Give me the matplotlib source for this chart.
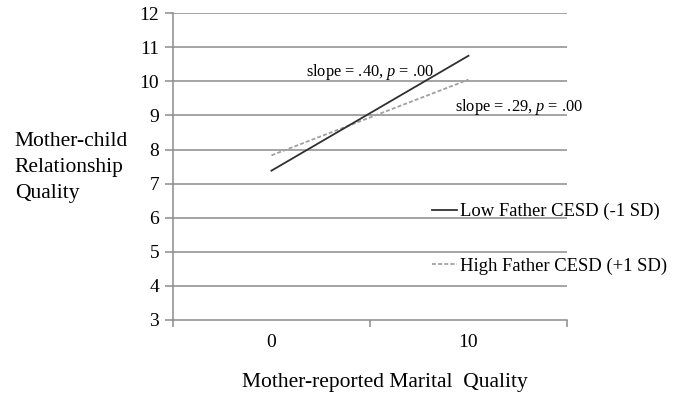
import matplotlib.pyplot as plt
from matplotlib.ticker import FixedLocator, NullFormatter

plt.rcParams['font.family'] = ['Liberation Serif', 'DejaVu Serif']
plt.rcParams['mathtext.fontset'] = 'custom'
plt.rcParams['mathtext.rm'] = 'Liberation Serif'
plt.rcParams['mathtext.it'] = 'Liberation Serif:italic'

# dados
marital = [0, 10]
low_cesd = [7.38, 10.75]
high_cesd = [7.83, 10.05]
y_ticks = [3, 4, 5, 6, 7, 8, 9, 10, 11, 12]
x_labels = ['0', '10']

fig = plt.figure(figsize=(6.77, 3.98), dpi=100)
ax = fig.add_axes([0.2555, 0.196, 0.582, 0.771])

grid_col = '#8c8c8c'

# linhas de grade horizontais
for v in y_ticks[1:]:
    ax.axhline(v, color=grid_col, lw=1.1, zorder=1)

l1, = ax.plot(marital, low_cesd, color='#303030', lw=1.3, zorder=3,
              label='Low Father CESD (-1 SD)')
l2, = ax.plot(marital, high_cesd, color='#a0a0a0', lw=1.3, ls=(0, (2.2, 1.2)), zorder=2,
              label='High Father CESD (+1 SD)')

ax.set_xlim(-5, 15)
ax.set_ylim(3, 12)

# eixo x tipo categoria: marcas nos limites, rotulos nos centros
ax.xaxis.set_major_locator(FixedLocator(marital))
ax.set_xticklabels(x_labels)
ax.xaxis.set_minor_locator(FixedLocator([-5, 5, 15]))
ax.xaxis.set_minor_formatter(NullFormatter())
ax.tick_params(axis='x', which='major', length=0, pad=10, labelsize=14)
ax.tick_params(axis='x', which='minor', length=5, width=1.1, color=grid_col, direction='out')

ax.set_yticks(y_ticks)
ax.tick_params(axis='y', length=6, width=1.1, color=grid_col, direction='out', pad=4, labelsize=14)

for s in ['top', 'right']:
    ax.spines[s].set_visible(False)
ax.spines['left'].set_color(grid_col)
ax.spines['bottom'].set_color(grid_col)
ax.spines['left'].set_linewidth(1.1)
ax.spines['bottom'].set_linewidth(1.1)

fig.text(0.569, 0.038, 'Mother-reported Marital  Quality', fontsize=15.5,
         ha='center', va='center')

fig.text(0.022, 0.58, 'Mother-child\nRelationship\nQuality', fontsize=15.5,
         ha='left', va='center', linespacing=1.5)

# anotacoes de inclinacao
fig.text(0.452, 0.82, 'slope = .40, $p$ = .00', fontsize=11.8, ha='left', va='center')
fig.text(0.672, 0.73, 'slope = .29, $p$ = .00', fontsize=11.8, ha='left', va='center')

fig.legend(handles=[l1, l2], loc='upper left', bbox_to_anchor=(0.638, 0.49),
           frameon=False, fontsize=13.4, handlelength=1.35, handletextpad=0.15,
           labelspacing=2.0, borderpad=0, borderaxespad=0)

fig.savefig('out.png', dpi=100)
